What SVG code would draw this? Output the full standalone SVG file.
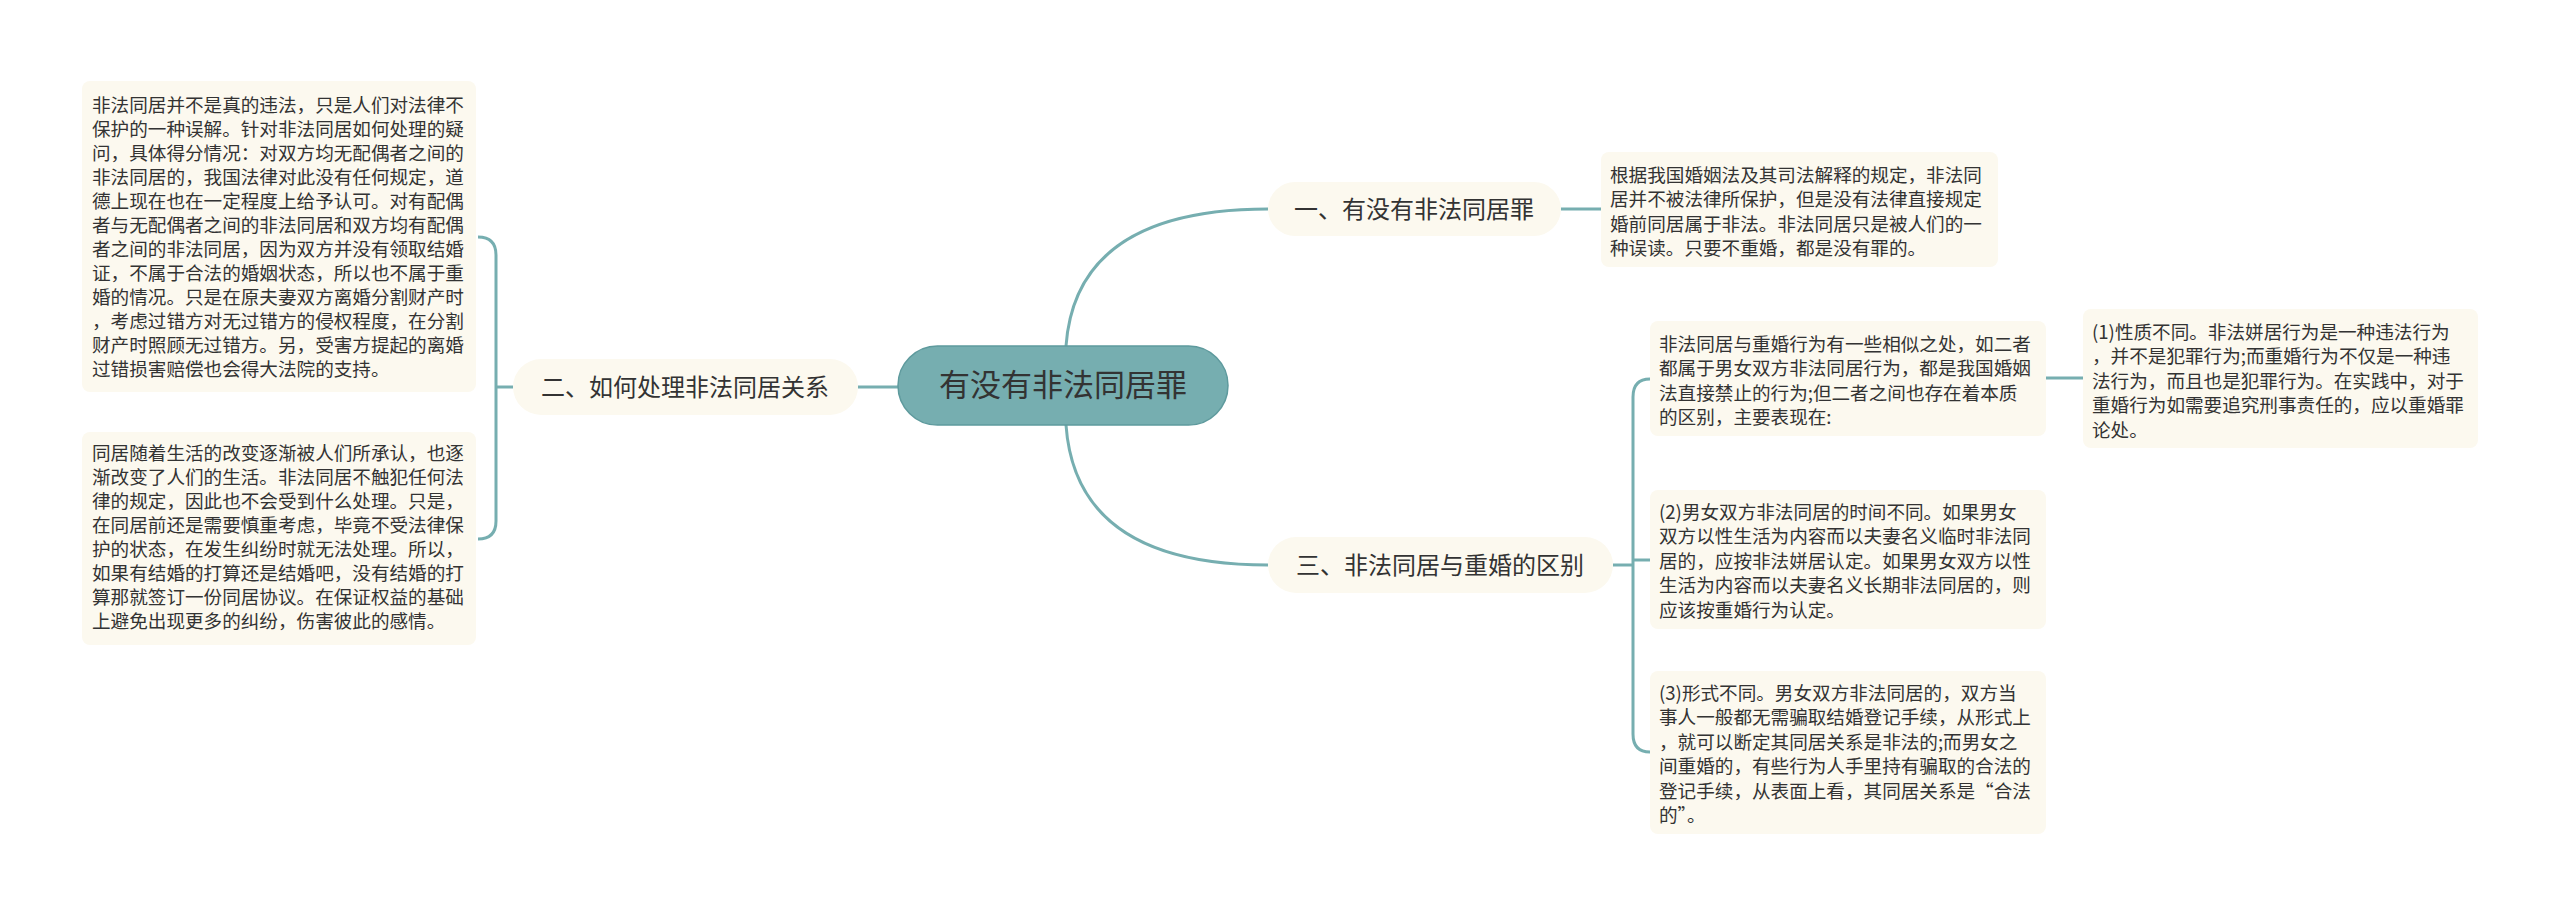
<svg xmlns="http://www.w3.org/2000/svg" width="2560" height="916" viewBox="0 0 2560 916">
<style>
.bg{fill:#ffffff}
.box{fill:#FCF9EF}
.t{font-family:"Noto Sans CJK SC","Noto Sans",sans-serif;font-size:18.6px;fill:#333333}
.b{font-family:"Noto Sans CJK SC","Noto Sans",sans-serif;font-size:24px;fill:#333333}
.c{font-family:"Noto Sans CJK SC","Noto Sans",sans-serif;font-size:31px;fill:#333333}
.ln{fill:none;stroke:#76AEB0;stroke-width:3}
</style>
<rect class="bg" width="2560" height="916"/>
<g id="connectors">
<path class="ln" d="M1066,346 Q1076,209 1268,209"/>
<path class="ln" d="M1066,425 Q1076,565 1268,565"/>
<path class="ln" d="M898,387 H858"/>
<path class="ln" d="M513,387 H496"/>
<path class="ln" d="M478,237 Q496,237 496,255 V521 Q496,539 478,539"/>
<path class="ln" d="M1561,209 H1601"/>
<path class="ln" d="M1613,565 H1633"/>
<path class="ln" d="M1650,379 Q1633,379 1633,397 V734 Q1633,752 1650,752"/>
<path class="ln" d="M1633,560 H1650"/>
<path class="ln" d="M2046,378 H2083"/>
</g>
<g id="center">
<rect x="898" y="346" width="330" height="79" rx="39.5" fill="#76AEB0" stroke="#5E9A9D" stroke-width="1.5"/>
<text class="c" x="1063" y="396" text-anchor="middle">有没有非法同居罪</text>
</g>
<g id="b2">
<rect class="box" x="513" y="359" width="345" height="56" rx="28"/>
<text class="b" x="685" y="396" text-anchor="middle">二、如何处理非法同居关系</text>
</g>
<g id="b2t1">
<rect class="box" x="82" y="81" width="394" height="311" rx="8"/>
<text class="t" x="92" y="112">非法同居并不是真的违法，只是人们对法律不</text>
<text class="t" x="92" y="136">保护的一种误解。针对非法同居如何处理的疑</text>
<text class="t" x="92" y="160">问，具体得分情况：对双方均无配偶者之间的</text>
<text class="t" x="92" y="184">非法同居的，我国法律对此没有任何规定，道</text>
<text class="t" x="92" y="208">德上现在也在一定程度上给予认可。对有配偶</text>
<text class="t" x="92" y="232">者与无配偶者之间的非法同居和双方均有配偶</text>
<text class="t" x="92" y="256">者之间的非法同居，因为双方并没有领取结婚</text>
<text class="t" x="92" y="280">证，不属于合法的婚姻状态，所以也不属于重</text>
<text class="t" x="92" y="304">婚的情况。只是在原夫妻双方离婚分割财产时</text>
<text class="t" x="92" y="328">，考虑过错方对无过错方的侵权程度，在分割</text>
<text class="t" x="92" y="352">财产时照顾无过错方。另，受害方提起的离婚</text>
<text class="t" x="92" y="376">过错损害赔偿也会得大法院的支持。</text>
</g>
<g id="b2t2">
<rect class="box" x="82" y="432" width="394" height="213" rx="8"/>
<text class="t" x="92" y="460">同居随着生活的改变逐渐被人们所承认，也逐</text>
<text class="t" x="92" y="484">渐改变了人们的生活。非法同居不触犯任何法</text>
<text class="t" x="92" y="508">律的规定，因此也不会受到什么处理。只是，</text>
<text class="t" x="92" y="532">在同居前还是需要慎重考虑，毕竟不受法律保</text>
<text class="t" x="92" y="556">护的状态，在发生纠纷时就无法处理。所以，</text>
<text class="t" x="92" y="580">如果有结婚的打算还是结婚吧，没有结婚的打</text>
<text class="t" x="92" y="604">算那就签订一份同居协议。在保证权益的基础</text>
<text class="t" x="92" y="628">上避免出现更多的纠纷，伤害彼此的感情。</text>
</g>
<g id="b1">
<rect class="box" x="1268" y="182" width="293" height="54" rx="27"/>
<text class="b" x="1414" y="218" text-anchor="middle">一、有没有非法同居罪</text>
</g>
<g id="b1t">
<rect class="box" x="1601" y="152" width="397" height="115" rx="8"/>
<text class="t" x="1610" y="182">根据我国婚姻法及其司法解释的规定，非法同</text>
<text class="t" x="1610" y="206">居并不被法律所保护，但是没有法律直接规定</text>
<text class="t" x="1610" y="231">婚前同居属于非法。非法同居只是被人们的一</text>
<text class="t" x="1610" y="255">种误读。只要不重婚，都是没有罪的。</text>
</g>
<g id="b3">
<rect class="box" x="1268" y="537" width="345" height="56" rx="28"/>
<text class="b" x="1440" y="574" text-anchor="middle">三、非法同居与重婚的区别</text>
</g>
<g id="b3a">
<rect class="box" x="1650" y="321" width="396" height="115" rx="8"/>
<text class="t" x="1659" y="351">非法同居与重婚行为有一些相似之处，如二者</text>
<text class="t" x="1659" y="375">都属于男女双方非法同居行为，都是我国婚姻</text>
<text class="t" x="1659" y="400">法直接禁止的行为;但二者之间也存在着本质</text>
<text class="t" x="1659" y="424">的区别，主要表现在:</text>
</g>
<g id="b3a1">
<rect class="box" x="2083" y="309" width="395" height="139" rx="8"/>
<text class="t" x="2092" y="339">(1)性质不同。非法姘居行为是一种违法行为</text>
<text class="t" x="2092" y="363">，并不是犯罪行为;而重婚行为不仅是一种违</text>
<text class="t" x="2092" y="388">法行为，而且也是犯罪行为。在实践中，对于</text>
<text class="t" x="2092" y="412">重婚行为如需要追究刑事责任的，应以重婚罪</text>
<text class="t" x="2092" y="437">论处。</text>
</g>
<g id="b3b">
<rect class="box" x="1650" y="490" width="396" height="139" rx="8"/>
<text class="t" x="1659" y="519">(2)男女双方非法同居的时间不同。如果男女</text>
<text class="t" x="1659" y="543">双方以性生活为内容而以夫妻名义临时非法同</text>
<text class="t" x="1659" y="568">居的，应按非法姘居认定。如果男女双方以性</text>
<text class="t" x="1659" y="592">生活为内容而以夫妻名义长期非法同居的，则</text>
<text class="t" x="1659" y="617">应该按重婚行为认定。</text>
</g>
<g id="b3c">
<rect class="box" x="1650" y="671" width="396" height="163" rx="8"/>
<text class="t" x="1659" y="700">(3)形式不同。男女双方非法同居的，双方当</text>
<text class="t" x="1659" y="724">事人一般都无需骗取结婚登记手续，从形式上</text>
<text class="t" x="1659" y="749">，就可以断定其同居关系是非法的;而男女之</text>
<text class="t" x="1659" y="773">间重婚的，有些行为人手里持有骗取的合法的</text>
<text class="t" x="1659" y="798">登记手续，从表面上看，其同居关系是“合法</text>
<text class="t" x="1659" y="822">的”。</text>
</g>
</svg>
